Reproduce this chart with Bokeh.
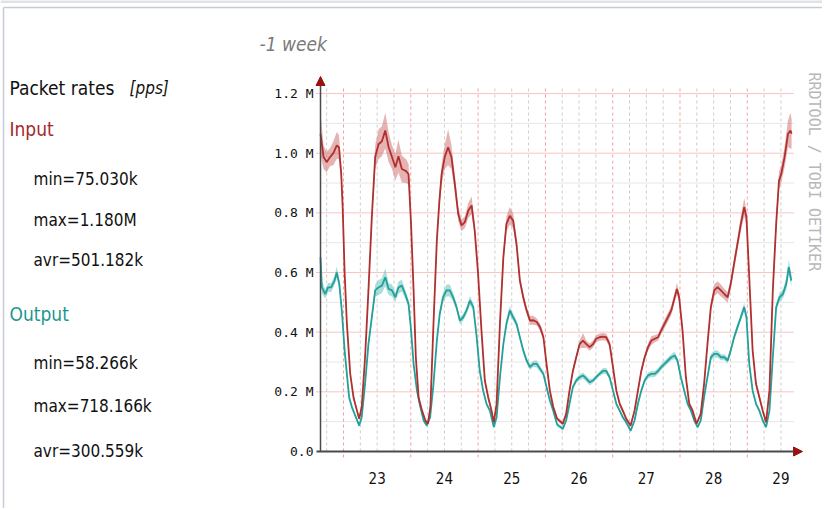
import math
from bokeh.plotting import figure
from bokeh.models import Range1d, Label, Arrow, NormalHead
from bokeh.core.properties import value
from bokeh.embed import file_html
from bokeh.resources import INLINE

# ---------------- data (hours since 00:00 on the 23rd, values in kpps) ----------------
input_hours = [-8.2, -7.1, -6.0, -4.8, -3.6, -2.4, -1.6, -0.8, -0.3, 0.4, 1.2, 2.4, 3.6, 4.8, 5.6, 6.5, 7.7, 8.9,
               10.1, 11.3, 12.5, 13.7, 14.9, 16.1, 17.3, 18.5, 19.6, 20.8, 22.3, 23.2, 24.1, 25.0, 25.8, 26.8,
               28.0, 29.2, 30.1, 31.0, 32.1, 33.3, 34.2, 35.0, 36.1, 37.3, 38.5, 39.7, 40.9, 42.1, 43.3, 44.5,
               45.7, 46.8, 48.0, 49.2, 50.4, 51.6, 52.8, 53.6, 54.6, 55.8, 57.0, 58.1, 59.3, 60.5, 61.7, 62.9,
               64.1, 65.3, 66.5, 67.7, 68.9, 70.1, 71.3, 72.4, 73.6, 74.8, 76.2, 78.2, 79.4, 80.6, 81.8, 83.0,
               84.2, 85.4, 86.6, 87.8, 89.0, 90.1, 91.3, 92.5, 93.7, 94.9, 96.1, 97.3, 98.5, 99.6, 100.8, 102.4,
               103.8, 105.0, 106.2, 107.4, 108.6, 109.8, 111.0, 112.2, 113.3, 114.5, 115.7, 116.9, 118.1, 118.9,
               119.7, 120.9, 122.1, 123.3, 124.5, 125.9, 127.4, 128.6, 129.8, 131.0, 132.2, 133.4, 134.6, 135.8,
               137.0, 138.1, 139.3, 140.5, 141.7, 142.9, 143.7, 144.7, 145.9, 147.1, 148.3, 149.5, 150.7, 151.9,
               153.1, 154.3, 155.3, 156.1, 157.3, 158.5, 159.4, 159.8]
input_kpps = [1065, 987, 970, 987, 1000, 1026, 1020, 930, 820, 600, 430, 260, 180, 137, 110, 149, 316, 540,
              785, 987, 1030, 1040, 1076, 1020, 987, 953, 990, 947, 940, 930, 760, 540, 316, 180,
              137, 104, 93, 150, 430, 710, 840, 930, 987, 1020, 987, 897, 797, 758, 769, 808,
              825, 740, 596, 406, 238, 182, 137, 98, 160, 430, 650, 763, 790, 774, 696, 573,
              517, 473, 439, 440, 434, 417, 383, 294, 204, 149, 110, 93, 126, 204, 270, 316,
              360, 372, 360, 350, 360, 378, 383, 385, 383, 360, 283, 204, 160, 137, 110, 87,
              137, 204, 270, 316, 350, 372, 378, 383, 406, 428, 450, 473, 517, 545,
              517, 406, 249, 160, 137, 93, 126, 227, 360, 484, 540, 551, 540, 528,
              517, 562, 630, 696, 763, 819, 785, 584, 339, 227, 182, 137, 98, 204,
              540, 763, 908, 930, 987, 1065, 1076, 1065]
input_spread = [70, 40, 35, 30, 40, 45, 40, 30, 20, 15, 12, 10, 8, 8, 6, 8, 10, 12,
                20, 40, 50, 50, 60, 50, 40, 45, 55, 45, 40, 35, 20, 15, 12, 10,
                8, 6, 6, 8, 12, 20, 25, 35, 40, 60, 40, 30, 25, 20, 20, 25,
                30, 20, 15, 12, 10, 10, 8, 6, 8, 12, 20, 25, 30, 25, 20, 15,
                15, 12, 15, 15, 12, 12, 12, 10, 10, 8, 6, 6, 8, 10, 10, 10,
                12, 25, 12, 12, 12, 12, 12, 12, 12, 12, 10, 10, 8, 8, 6, 6,
                8, 10, 10, 10, 12, 15, 12, 12, 12, 15, 15, 15, 15, 20,
                15, 12, 10, 8, 8, 6, 8, 10, 12, 15, 20, 20, 20, 18,
                18, 18, 20, 20, 25, 30, 25, 15, 12, 10, 10, 8, 6, 10,
                15, 25, 30, 30, 35, 45, 60, 50]

output_hours = [-8.2, -7.7, -6.5, -5.5, -4.4, -3.2, -2.4, -1.5, -0.6, 0.4, 1.2, 2.0, 3.0, 4.2, 5.6, 6.5, 7.7, 8.9,
                10.1, 11.3, 12.5, 13.7, 14.9, 16.1, 17.3, 18.5, 19.6, 20.8, 22.0, 23.2, 24.1, 25.0, 26.2, 27.4,
                28.6, 29.7, 30.9, 32.1, 33.3, 34.3, 35.5, 36.7, 37.9, 39.1, 40.3, 41.5, 42.7, 43.9, 45.1, 46.3,
                47.5, 48.6, 49.8, 51.0, 52.2, 53.6, 54.6, 55.8, 57.0, 58.1, 59.3, 60.5, 61.7, 62.9, 64.1, 65.3,
                66.5, 67.7, 68.9, 70.1, 71.3, 72.4, 73.6, 74.8, 76.2, 78.2, 79.4, 80.6, 81.8, 83.0, 84.2, 85.4,
                86.6, 87.8, 89.0, 90.1, 91.3, 92.5, 93.7, 94.9, 96.1, 97.3, 98.5, 99.6, 100.8, 102.4, 103.8, 105.0,
                106.2, 107.4, 108.6, 109.8, 111.0, 112.2, 113.3, 114.5, 115.7, 116.9, 118.1, 119.1, 120.3, 121.5,
                122.7, 123.9, 125.1, 126.3, 127.4, 128.6, 129.8, 131.0, 132.2, 133.4, 134.6, 135.8, 137.0, 138.1,
                139.3, 140.5, 141.7, 142.9, 143.7, 144.7, 145.9, 147.1, 148.3, 149.5, 150.7, 151.9, 153.1, 154.3,
                155.5, 156.7, 157.9, 158.8, 159.7]
output_kpps = [651, 550, 528, 550, 550, 573, 600, 562, 473, 339, 260, 182, 149, 120, 87, 115, 227, 360,
               450, 540, 550, 556, 584, 545, 540, 517, 550, 556, 528, 495, 406, 294, 204, 149,
               104, 87, 115, 227, 372, 460, 517, 540, 540, 517, 484, 439, 450, 473, 506, 484,
               383, 270, 204, 160, 137, 82, 115, 249, 360, 428, 473, 450, 428, 383, 339, 305,
               283, 294, 294, 277, 260, 216, 171, 137, 90, 76, 104, 160, 216, 238, 249, 255,
               244, 232, 238, 249, 260, 270, 270, 249, 204, 160, 137, 115, 98, 70, 104, 160,
               204, 238, 255, 260, 260, 270, 283, 294, 305, 316, 322, 305, 249, 204,
               160, 137, 104, 82, 104, 182, 249, 316, 327, 327, 316, 316, 305, 339,
               383, 417, 450, 484, 450, 294, 204, 160, 137, 104, 82, 137, 316, 484,
               517, 528, 562, 618, 573]
output_spread = [45, 20, 15, 15, 15, 15, 20, 15, 12, 10, 8, 8, 8, 6, 6, 6, 8, 10,
                 12, 20, 25, 25, 30, 20, 20, 15, 20, 20, 15, 12, 10, 8, 8, 6,
                 6, 6, 6, 8, 10, 12, 15, 20, 20, 15, 12, 12, 12, 12, 15, 12,
                 10, 8, 8, 6, 6, 6, 6, 8, 10, 12, 15, 12, 12, 10, 10, 10,
                 10, 10, 12, 10, 8, 8, 6, 6, 6, 6, 6, 6, 8, 8, 10, 10,
                 10, 10, 8, 8, 8, 10, 10, 8, 8, 6, 6, 6, 6, 6, 6, 6,
                 8, 8, 10, 10, 10, 10, 10, 10, 10, 10, 12, 10, 8, 8,
                 6, 6, 6, 6, 6, 8, 8, 10, 12, 12, 10, 10, 10, 10,
                 12, 12, 12, 15, 12, 8, 8, 6, 6, 6, 6, 6, 10, 12,
                 15, 15, 20, 25, 20]

day_labels = ["23", "24", "25", "26", "27", "28", "29"]
y_ticks_mpps = [0.0, 0.2, 0.4, 0.6, 0.8, 1.0, 1.2]
y_tick_labels = ["0.0", "0.2 M", "0.4 M", "0.6 M", "0.8 M", "1.0 M", "1.2 M"]
y_minor_mpps = [0.1, 0.3, 0.5, 0.7, 0.9, 1.1]
input_stats = ["min=75.030k", "max=1.180M", "avr=501.182k"]
output_stats = ["min=58.266k", "max=718.166k", "avr=300.559k"]

# ---------------- layout (canvas pixel geometry; the canvas covers the page) ----------------
W, H = 822, 508
L, R, T, B = 320, 793, 87, 451        # plot area
PX_PER_H = 67.3 / 24.0                # pixels per hour
PX_PER_M = 298.3                      # pixels per million pps
X_AT_L = -8.2                         # hour shown at the left edge of the plot area


def X(px):
    return X_AT_L + (px - L) / PX_PER_H


def Y(py):
    return (B - py) / PX_PER_M * 1e6


COND = "DejaVu Sans Condensed, DejaVu Sans"
MONO = "DejaVu Sans Mono"
RED_LINE = "#b0302f"
RED_BAND = "#cf7474"
TEAL_LINE = "#22a19b"
TEAL_BAND = "#62c3bd"

p = figure(width=W, height=H, output_backend="svg", toolbar_location=None,
           x_range=Range1d(X(0), X(W)), y_range=Range1d(Y(H), Y(0)),
           x_axis_type=None, y_axis_type=None,
           min_border=0, min_border_left=0, min_border_right=0, min_border_top=0, min_border_bottom=0)
p.outline_line_color = None
p.background_fill_color = "white"
p.border_fill_color = "white"
p.grid.visible = False

# page frame lines
p.line([X(0), X(W)], [Y(1), Y(1)], line_color="#dfe3e8", line_width=3)
p.line([X(3), X(W)], [Y(7), Y(7)], line_color="#c6ccd6", line_width=1.5)
p.line([X(3), X(3)], [Y(7), Y(H)], line_color="#c6ccd6", line_width=1.5)

# grid lines
midnights = [24.0 * d for d in range(0, 7)]
six_h = [h for h in range(-6, 162, 6) if h % 24 != 0]
top_v = Y(T)
p.segment(x0=six_h, y0=[0] * len(six_h), x1=six_h, y1=[top_v] * len(six_h),
          line_color="#cdcdcd", line_dash="3 3", line_width=1)
ymin = [v * 1e6 for v in y_minor_mpps]
p.segment(x0=[X(L)] * len(ymin), y0=ymin, x1=[X(R)] * len(ymin), y1=ymin,
          line_color="#cdcdcd", line_dash="1 1", line_width=1)
p.segment(x0=midnights, y0=[Y(B + 6)] * len(midnights), x1=midnights, y1=[top_v] * len(midnights),
          line_color="#f3a0a0", line_dash="3 3", line_width=1)
ymaj = [v * 1e6 for v in y_ticks_mpps[1:]]
p.segment(x0=[X(L - 4)] * len(ymaj), y0=ymaj, x1=[X(R)] * len(ymaj), y1=ymaj,
          line_color="#f08a8a", line_dash="1 1", line_width=1)

# series
in_v = [v * 1e3 for v in input_kpps]
in_lo = [(v - s) * 1e3 for v, s in zip(input_kpps, input_spread)]
in_hi = [(v + s) * 1e3 for v, s in zip(input_kpps, input_spread)]
out_v = [v * 1e3 for v in output_kpps]
out_lo = [(v - s) * 1e3 for v, s in zip(output_kpps, output_spread)]
out_hi = [(v + s) * 1e3 for v, s in zip(output_kpps, output_spread)]

p.varea(x=input_hours, y1=in_lo, y2=in_hi, fill_color=RED_BAND, fill_alpha=0.55)
p.varea(x=output_hours, y1=out_lo, y2=out_hi, fill_color=TEAL_BAND, fill_alpha=0.55)
p.line(output_hours, out_v, line_color=TEAL_LINE, line_width=1.8)
p.line(input_hours, in_v, line_color=RED_LINE, line_width=1.8)

# axis lines with arrow heads
p.add_layout(Arrow(x_start=X(316), y_start=0, x_end=X(802), y_end=0,
                   line_color="#4a4a4a", line_width=2,
                   end=NormalHead(size=9, fill_color="#9c1010", line_color="#9c1010")))
p.add_layout(Arrow(x_start=X(L), y_start=0, x_end=X(L), y_end=Y(76),
                   line_color="#4a4a4a", line_width=1.5,
                   end=NormalHead(size=9, fill_color="#9c1010", line_color="#9c1010")))

# tick labels
y_tick_vals = [v * 1e6 for v in y_ticks_mpps]
p.text(x=[X(313)] * len(y_tick_vals), y=y_tick_vals, text=y_tick_labels,
       text_font=value(MONO), text_font_size="13px", text_color="#111",
       text_align="right", text_baseline="middle")
noon = [12.0 + 24.0 * i for i in range(len(day_labels))]
p.text(x=noon, y=[Y(477)] * len(noon), text=day_labels,
       text_font=value(COND), text_font_size="15px", text_color="#111",
       text_align="center", text_baseline="alphabetic")


def add_text(txt, px, py, size, color="#111", font=COND, style="normal"):
    p.add_layout(Label(x=X(px), y=Y(py), text=txt, text_font=font, text_font_size=size,
                       text_color=color, text_font_style=style, text_align="left",
                       text_baseline="alphabetic"))


add_text("-1 week", 259, 43, "19px", color="#7a7a7a", style="italic")
add_text("Packet rates", 9, 87, "19px")
add_text("[pps]", 129, 87, "17px", style="italic")
add_text("Input", 9, 128, "19px", color="#a3292b")
for i, s in enumerate(input_stats):
    add_text(s, 33, [178, 219, 259][i], "17px")
add_text("Output", 9, 313, "19px", color="#1c9690")
for i, s in enumerate(output_stats):
    add_text(s, 33, [362, 405, 450][i], "17px")

p.add_layout(Label(x=X(813), y=Y(72), text="RRDTOOL / TOBI OETIKER", text_font=MONO,
                   text_font_size="15px", text_color="#b8b8b8", angle=-math.pi / 2,
                   text_align="left", text_baseline="middle"))

open("out.html", "w").write(file_html(p, INLINE))
